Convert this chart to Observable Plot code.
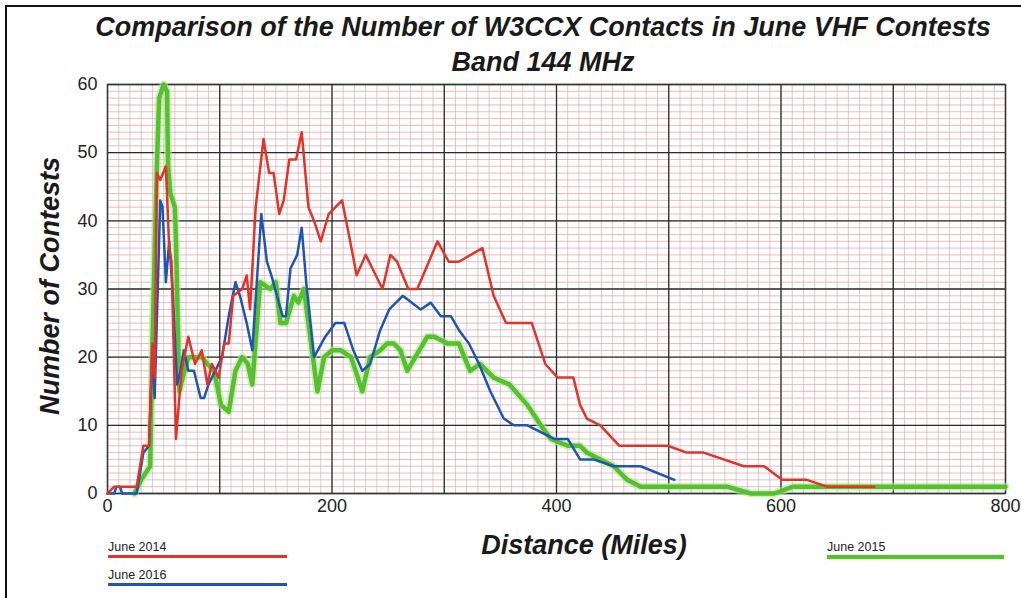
<!DOCTYPE html>
<html>
<head>
<meta charset="utf-8">
<script src="https://cdn.jsdelivr.net/npm/d3@7"></script>
<script src="https://cdn.jsdelivr.net/npm/@observablehq/plot@0.6"></script>
<style>
  html, body { margin: 0; padding: 0; background: #fff; }
  #wrap { position: relative; width: 1021px; height: 598px; overflow: hidden; background: #fff; font-family: "Liberation Sans", Arial, sans-serif; }
  .bt { position: absolute; left: 5px; top: 5px; width: 1016px; height: 2px; background: #111; }
  .bl { position: absolute; left: 5px; top: 5px; width: 2px; height: 593px; background: #111; }
  .hd { position: absolute; left: 0; width: 1086px; text-align: center; font-weight: bold; font-style: italic; color: #1a1a1a; font-size: 27px; white-space: nowrap; line-height: 1; }
  #ylab { position: absolute; left: 50px; top: 286px; transform: translate(-50%, -50%) rotate(-90deg); font-weight: bold; font-style: italic; font-size: 27px; color: #1a1a1a; white-space: nowrap; }
  #xlab { position: absolute; left: 584px; top: 545px; transform: translate(-50%, -50%); font-weight: bold; font-style: italic; font-size: 27px; color: #1a1a1a; white-space: nowrap; }
  .lg { position: absolute; font-size: 12.5px; color: #222; white-space: nowrap; }
  .ll { position: absolute; height: 3px; }
  #chart { position: absolute; left: 0; top: 50px; }
</style>
</head>
<body>
<div id="wrap">
  <div class="bt"></div><div class="bl"></div>
  <div id="chart"></div>
  <div class="hd" style="top:14px">Comparison of the Number of W3CCX Contacts in June VHF Contests</div>
  <div class="hd" style="top:49px">Band 144 MHz</div>
  <div id="ylab">Number of Contests</div>
  <div id="xlab">Distance (Miles)</div>
  <div class="lg" style="left:108px;top:540px">June 2014</div>
  <div class="ll" style="left:108px;top:555px;width:179px;background:#e2332b"></div>
  <div class="lg" style="left:108px;top:568px">June 2016</div>
  <div class="ll" style="left:108px;top:583px;width:179px;background:#1d55b3"></div>
  <div class="lg" style="left:827px;top:540px">June 2015</div>
  <div class="ll" style="left:827px;top:555px;width:177px;height:4px;background:#56c02f;box-shadow:0 0 2px #a6e08a"></div>
</div>
<script>
// Series: June 2014 (red)
const june2014X = [0,6,12,26,32,37,40,42,44,47,52,55,57,61,66,72,78,84,89,93,99,104,108,112,120,124,127,132,139,144,148,153,157,162,168,173,179,184,190,197,209,215,222,230,236,245,252,258,268,276,294,304,313,334,344,355,378,390,401,415,421,427,439,456,499,516,531,567,585,601,623,641,683];
const june2014Y = [0,1,1,1,7,7,22,17,47,46,48,36,34,8,18,23,19,21,16,19,17,22,22,29,30,32,27,42,52,47,47,41,43,49,49,53,42,40,37,41,43,38,32,35,33,30,35,34,30,30,37,34,34,36,29,25,25,19,17,17,13,11,10,7,7,6,6,4,4,2,2,1,1];

// Series: June 2016 (blue)
const june2016X = [0,6,8,11,13,26,32,37,40,42,47,49,52,55,58,62,65,68,72,77,83,86,90,96,102,108,114,118,124,129,137,142,146,156,159,163,169,173,177,184,194,203,211,219,227,234,243,251,263,279,288,297,306,313,322,331,341,353,362,374,386,398,410,421,433,451,475,505];
const june2016Y = [0,0,1,1,0,0,6,7,21,14,43,42,31,37,30,16,18,21,18,18,14,14,16,18,20,26,31,29,25,21,41,34,32,26,26,33,35,39,31,20,23,25,25,21,18,19,24,27,29,27,28,26,26,24,22,19,15,11,10,10,9,8,8,5,5,4,4,2];

// Series: June 2015 (green)
const june2015X = [24,30,34,38,40,44,46,50,53,54,56,60,61,64,67,72,80,84,89,95,101,108,114,120,125,129,136,145,150,154,159,166,170,175,187,193,200,208,217,227,234,243,249,255,261,267,285,291,303,313,323,332,344,358,374,386,395,410,421,427,439,451,463,475,552,573,594,611,800];
const june2015Y = [0,2,3,4,22,48,58,60,59,48,44,42,37,15,17,20,20,20,19,18,13,12,18,20,19,16,31,30,31,25,25,29,28,30,15,20,21,21,20,15,20,21,22,22,21,18,23,23,22,22,18,19,17,16,13,10,8,7,7,6,5,4,2,1,1,0,0,1,1];

// Axis ticks
const xTicks = [0,200,400,600,800];
const yTicks = [0,10,20,30,40,50,60];
const xMajorGrid = [0,100,200,300,400,500,600,700,800];
const xMinorGrid = d3.range(0, 801, 10);
const yMinorGrid = d3.range(0, 61, 1);

const toRows = (xs, ys) => xs.map((x, i) => ({x, y: ys[i]}));
const red = toRows(june2014X, june2014Y);
const blue = toRows(june2016X, june2016Y);
const green = toRows(june2015X, june2015Y);

const chart = Plot.plot({
  width: 1021,
  height: 548,
  marginTop: 34,
  marginLeft: 107,
  marginRight: 16,
  marginBottom: 105,
  style: {fontFamily: "Liberation Sans, Arial, sans-serif", background: "transparent", color: "#222"},
  x: {domain: [0, 800]},
  y: {domain: [0, 60]},
  marks: [
    Plot.ruleX(xMinorGrid, {stroke: "#cdbfc3", strokeWidth: 0.8}),
    Plot.ruleY(yMinorGrid, {stroke: "#e7a9ab", strokeWidth: 0.8}),
    Plot.ruleX(xMajorGrid, {stroke: "#2b2b2b", strokeWidth: 1.3}),
    Plot.ruleY(yTicks, {stroke: "#2b2b2b", strokeWidth: 1.3}),
    Plot.frame({stroke: "#333", strokeWidth: 1.3}),
    Plot.axisX({ticks: xTicks, tickSize: 0, tickPadding: 6, fontSize: 18, label: null, tickFormat: d => String(d)}),
    Plot.axisY({ticks: yTicks, tickSize: 0, tickPadding: 10, fontSize: 18, label: null}),
    Plot.line(green, {x: "x", y: "y", stroke: "#b2e597", strokeWidth: 8, strokeOpacity: 0.6, strokeLinejoin: "round"}),
    Plot.line(green, {x: "x", y: "y", stroke: "#56c02f", strokeWidth: 4.5, strokeLinejoin: "round"}),
    Plot.line(blue, {x: "x", y: "y", stroke: "#1d55b3", strokeWidth: 2.5, strokeLinejoin: "round"}),
    Plot.line(red, {x: "x", y: "y", stroke: "#e2332b", strokeWidth: 2.5, strokeLinejoin: "round"})
  ]
});
document.getElementById("chart").appendChild(chart);
</script>
</body>
</html>
